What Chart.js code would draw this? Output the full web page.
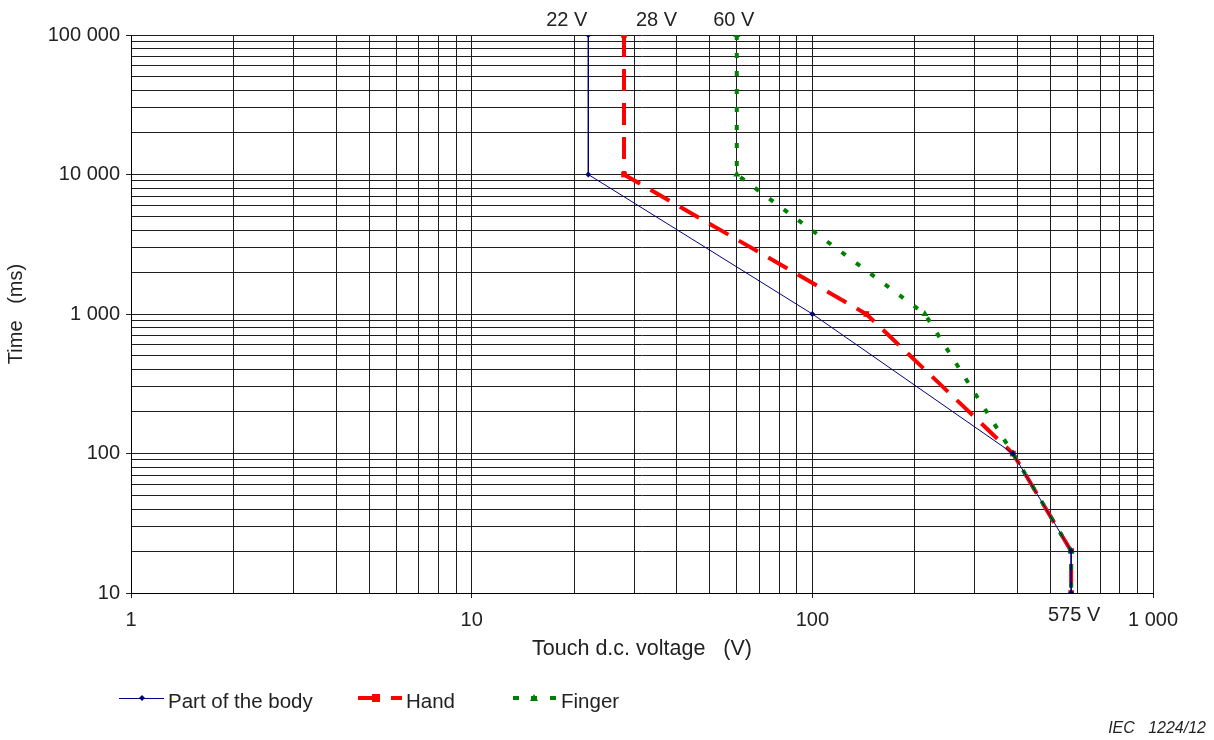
<!DOCTYPE html>
<html>
<head>
<meta charset="utf-8">
<title>Touch d.c. voltage thresholds</title>
<script src="https://cdn.jsdelivr.net/npm/chart.js@4/dist/chart.umd.min.js"></script>
<style>
  html, body { margin: 0; padding: 0; background: #fff; }
  canvas { display: block; }
</style>
</head>
<body>
<canvas id="chart" width="1214" height="740"></canvas>
<script>
// voltage (V) / time (ms) pairs
const bodyVolts = [22, 22, 100, 388, 575, 575];
const bodyTimes = [100000, 10000, 1000, 100, 20, 10];
const handVolts = [28, 28, 144, 388, 575, 575];
const handTimes = [100000, 10000, 1000, 100, 20, 10];
const fingerVolts = [60, 60, 214, 388, 575, 575];
const fingerTimes = [100000, 10000, 1000, 100, 20, 10];

const seriesNames = ['Part of the body', 'Hand', 'Finger'];

const xMajor = [1, 10, 100, 1000];
const xTickLabels = ['1', '10', '100', '1 000'];
const yMajor = [10, 100, 1000, 10000, 100000];
const yTickLabels = ['10', '100', '1 000', '10 000', '100 000'];

const topNotes = ['22 V', '28 V', '60 V'];
const bottomNote = '575 V';
const figureRef = 'IEC   1224/12';

const FONT = '"Liberation Sans", Arial, sans-serif';
const TEXT = '#222';

// every 1..9 step of each decade, used as grid lines
function decadeSteps(majors) {
  const out = [];
  for (let i = 0; i < majors.length - 1; i++) {
    for (let k = 1; k < 10; k++) out.push(majors[i] * k);
  }
  out.push(majors[majors.length - 1]);
  return out;
}

function toPoints(xs, ys) {
  return xs.map((x, i) => ({ x, y: ys[i] }));
}

function logAxis(majors, labels) {
  const steps = decadeSteps(majors);
  return {
    type: 'logarithmic',
    min: majors[0],
    max: majors[majors.length - 1],
    afterBuildTicks: scale => {
      scale.ticks = steps.map(v => ({ value: v, major: majors.includes(v) }));
    },
    ticks: {
      autoSkip: false,
      maxRotation: 0,
      color: TEXT,
      font: { family: FONT, size: 20 },
      callback: value => {
        const i = majors.indexOf(value);
        return i >= 0 ? labels[i] : '';
      }
    },
    grid: {
      color: '#1e1e1e',
      lineWidth: 1,
      tickLength: 5,
      tickColor: ctx => (ctx.tick && majors.includes(ctx.tick.value) ? '#1e1e1e' : 'rgba(0,0,0,0)')
    },
    border: { color: '#000', width: 1 }
  };
}

const xAxis = logAxis(xMajor, xTickLabels);
xAxis.ticks.padding = 10;
xAxis.title = { display: true, text: 'Touch d.c. voltage   (V)', color: TEXT, font: { family: FONT, size: 21.5 }, padding: 0 };
xAxis.afterFit = s => { s.height = 69; };

const yAxis = logAxis(yMajor, yTickLabels);
yAxis.ticks.padding = 6;
yAxis.title = { display: true, text: 'Time   (ms)', color: TEXT, font: { family: FONT, size: 20 }, padding: 0 };
yAxis.afterFit = s => { s.width = 127; };

const notesPlugin = {
  id: 'notes',
  afterDraw(chart) {
    const { ctx, chartArea } = chart;
    const xs = chart.scales.x;
    ctx.save();
    ctx.fillStyle = TEXT;
    ctx.font = '20px ' + FONT;
    ctx.textBaseline = 'middle';

    // voltage labels above the plot
    ctx.textAlign = 'right';
    ctx.fillText(topNotes[0], xs.getPixelForValue(bodyVolts[0]) - 1, 20);
    ctx.textAlign = 'left';
    ctx.fillText(topNotes[1], xs.getPixelForValue(handVolts[0]) + 12, 20);
    ctx.textAlign = 'center';
    ctx.fillText(topNotes[2], xs.getPixelForValue(fingerVolts[0]) - 3, 20);

    // 575 V below the axis
    ctx.fillText(bottomNote, xs.getPixelForValue(bodyVolts[bodyVolts.length - 1]) + 3, chartArea.bottom + 22);

    // legend
    const ly = 698;
    ctx.lineCap = 'butt';
    ctx.strokeStyle = '#000080';
    ctx.lineWidth = 1;
    ctx.beginPath(); ctx.moveTo(119, ly + 0.5); ctx.lineTo(164, ly + 0.5); ctx.stroke();
    ctx.fillStyle = '#000080';
    ctx.beginPath();
    ctx.moveTo(142, ly - 3); ctx.lineTo(145, ly); ctx.lineTo(142, ly + 3); ctx.lineTo(139, ly); ctx.closePath();
    ctx.fill();

    ctx.strokeStyle = '#ff0000';
    ctx.lineWidth = 4;
    ctx.beginPath(); ctx.moveTo(358, ly); ctx.lineTo(378, ly); ctx.moveTo(391, ly); ctx.lineTo(402, ly); ctx.stroke();
    ctx.fillStyle = '#ff0000';
    ctx.fillRect(372, ly - 4, 8, 8);

    ctx.strokeStyle = '#008000';
    ctx.beginPath();
    [513, 531, 550].forEach(x => { ctx.moveTo(x, ly); ctx.lineTo(x + 6, ly); });
    ctx.stroke();
    ctx.fillStyle = '#008000';
    ctx.beginPath(); ctx.moveTo(534, ly - 4); ctx.lineTo(538, ly + 3); ctx.lineTo(530, ly + 3); ctx.closePath(); ctx.fill();

    ctx.fillStyle = TEXT;
    ctx.textAlign = 'left';
    ctx.font = '20.5px ' + FONT;
    ctx.fillText(seriesNames[0], 168, ly + 4);
    ctx.fillText(seriesNames[1], 406, ly + 4);
    ctx.fillText(seriesNames[2], 561, ly + 4);

    // figure reference
    ctx.font = 'italic 16px ' + FONT;
    ctx.textAlign = 'right';
    ctx.fillText(figureRef, 1206, 729);
    ctx.restore();
  }
};

new Chart(document.getElementById('chart'), {
  type: 'line',
  data: {
    datasets: [
      {
        label: seriesNames[0],
        data: toPoints(bodyVolts, bodyTimes),
        borderColor: '#000080',
        backgroundColor: '#000080',
        borderWidth: 1,
        pointStyle: 'rectRot',
        pointRadius: 3,
        pointBorderWidth: 0,
        order: 0
      },
      {
        label: seriesNames[1],
        data: toPoints(handVolts, handTimes),
        borderColor: '#ff0000',
        backgroundColor: '#ff0000',
        borderWidth: 4,
        borderDash: [22, 12],
        borderCapStyle: 'butt',
        pointStyle: 'rect',
        pointRadius: 4,
        pointBorderWidth: 0,
        order: 2
      },
      {
        label: seriesNames[2],
        data: toPoints(fingerVolts, fingerTimes),
        borderColor: '#008000',
        backgroundColor: '#008000',
        borderWidth: 4,
        borderDash: [5, 13],
        borderCapStyle: 'butt',
        pointStyle: 'triangle',
        pointRadius: 4,
        pointBorderWidth: 0,
        order: 1
      }
    ]
  },
  options: {
    responsive: false,
    animation: false,
    devicePixelRatio: 1,
    layout: { padding: { left: 4, top: 35, right: 61, bottom: 78 } },
    plugins: {
      legend: { display: false },
      tooltip: { enabled: false }
    },
    elements: { line: { tension: 0, fill: false } },
    scales: { x: xAxis, y: yAxis }
  },
  plugins: [notesPlugin]
});
</script>
</body>
</html>
